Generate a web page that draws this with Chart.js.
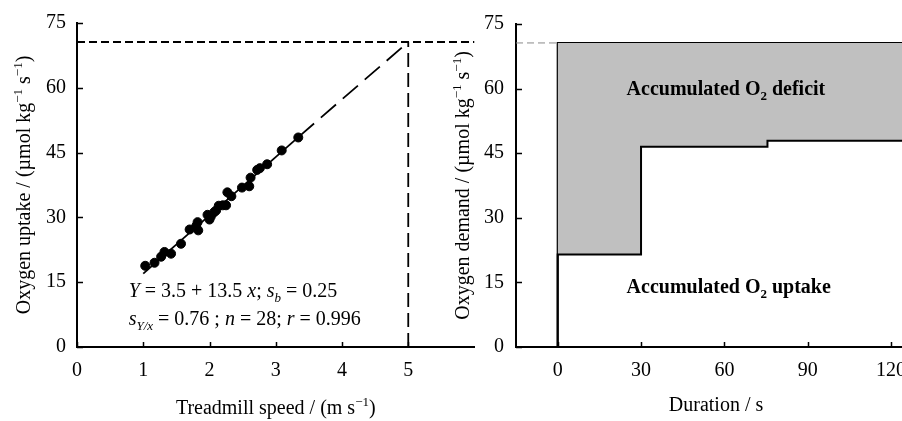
<!DOCTYPE html>
<html>
<head>
<meta charset="utf-8">
<script src="https://cdn.jsdelivr.net/npm/chart.js@4"></script>
<style>
  html, body { margin: 0; padding: 0; background: #fff; overflow: hidden; width: 902px; height: 421px; }
  #boxRight { position: absolute; left: 440px; top: 0; width: 480px; height: 421px; }
  #boxLeft { position: absolute; left: 0; top: 0; width: 480px; height: 421px; }
</style>
</head>
<body>
<div id="boxRight"><canvas id="demand"></canvas></div>
<div id="boxLeft"><canvas id="uptake"></canvas></div>
<script>
// left panel: O2 uptake vs treadmill speed
const speed = [1.03, 1.17, 1.27, 1.32, 1.42, 1.57, 1.70, 1.82, 1.83, 1.80, 1.97, 2.00, 2.02, 2.07,
               2.10, 2.14, 2.20, 2.25, 2.27, 2.33, 2.49, 2.60, 2.62, 2.72, 2.76, 2.87, 3.09, 3.34];
const uptake = [18.8, 19.5, 20.9, 22.0, 21.6, 23.9, 27.2, 28.9, 27.0, 28.0, 30.6, 29.5, 30.2, 31.2,
                31.6, 32.7, 32.8, 32.8, 35.8, 34.9, 36.9, 37.2, 39.2, 41.0, 41.4, 42.3, 45.5, 48.5];
const fitSolidX = [1.0, 3.35];
const fitSolidY = [17.0, 48.7];
const fitDashX = [3.35, 5.0];
const fitDashY = [48.7, 70.6];
const demandSpeed = 5;
const demandValue = 70.6;
const speedTicks = [0, 1, 2, 3, 4, 5];
const uptakeTicks = [0, 15, 30, 45, 60, 75];

// right panel: demand and uptake over time
const stepTime = [0, 0, 30, 30, 75.5, 75.5, 131];
const stepUptake = [0, 21.5, 21.5, 46.5, 46.5, 47.9, 47.9];
const demandTime = [0, 0, 131];
const demandLine = [0, 70.6, 70.6];
const durationTicks = [0, 30, 60, 90, 120];

const FONT = '"Liberation Serif", "Times New Roman", serif';
const pts = (xs, ys) => xs.map((x, i) => ({ x: x, y: ys[i] }));

// text with italics / sub- and superscripts
function drawRich(ctx, parts, x, y, size, align, rotate) {
  const segs = parts.map(([t, k]) => {
    const small = k.includes('^') || k.includes('_');
    const sz = small ? Math.round(size * 0.65) : size;
    ctx.font = (k.includes('i') ? 'italic ' : '') + (k.includes('b') ? 'bold ' : '') + sz + 'px ' + FONT;
    return { t: t, font: ctx.font, w: ctx.measureText(t).width,
             dy: k.includes('^') ? -size * 0.42 : (k.includes('_') ? size * 0.25 : 0) };
  });
  const total = segs.reduce((a, s) => a + s.w, 0);
  ctx.save();
  ctx.translate(x, y);
  if (rotate) ctx.rotate(rotate);
  ctx.fillStyle = '#000';
  ctx.textAlign = 'left';
  ctx.textBaseline = 'alphabetic';
  let cx = align === 'center' ? -total / 2 : 0;
  segs.forEach(s => { ctx.font = s.font; ctx.fillText(s.t, cx, s.dy); cx += s.w; });
  ctx.restore();
}

// titles and in-plot notes, kept outside chart options
function richLabels(items) {
  return {
    id: 'richLabels',
    afterDraw(chart) {
      const ctx = chart.ctx, a = chart.chartArea, sx = chart.scales.x, sy = chart.scales.y;
      items.forEach(it => {
        let x, y;
        if (it.kind === 'ytitle') { x = a.left - it.gap; y = (a.top + a.bottom) / 2; }
        else if (it.kind === 'xtitle') { x = (a.left + a.right) / 2 + (it.nudge || 0); y = it.base; }
        else { x = sx.getPixelForValue(it.at[0]); y = sy.getPixelForValue(it.at[1]); }
        drawRich(ctx, it.parts, x, y, 20, it.kind ? 'center' : 'left', it.kind === 'ytitle' ? -Math.PI / 2 : 0);
      });
    }
  };
}

// tick marks pointing into the plot
const inwardTicks = {
  id: 'inwardTicks',
  afterDraw(chart) {
    const ctx = chart.ctx, sx = chart.scales.x, sy = chart.scales.y, a = chart.chartArea;
    ctx.save();
    ctx.strokeStyle = '#000';
    ctx.lineWidth = 1.5;
    ctx.beginPath();
    sx.ticks.forEach(t => {
      const p = Math.round(sx.getPixelForValue(t.value)) + 0.5;
      ctx.moveTo(p, a.bottom); ctx.lineTo(p, a.bottom - 5);
    });
    sy.ticks.forEach(t => {
      const p = Math.round(sy.getPixelForValue(t.value)) + 0.5;
      ctx.moveTo(a.left, p); ctx.lineTo(a.left + 6, p);
    });
    ctx.stroke();
    ctx.restore();
  }
};

function axes(xMin, xMax, xTicks, yWidth, yPad) {
  return {
    x: {
      type: 'linear', min: xMin, max: xMax,
      afterBuildTicks: s => { s.ticks = xTicks.map(v => ({ value: v })); },
      afterFit: s => { s.height = 74; },
      grid: { display: false, drawTicks: false },
      border: { color: '#000', width: 2 },
      ticks: { color: '#000', padding: 12, font: { family: FONT, size: 20 }, callback: v => String(v) }
    },
    y: {
      type: 'linear', min: 0, max: 75,
      afterBuildTicks: s => { s.ticks = uptakeTicks.map(v => ({ value: v })); },
      afterFit: s => { s.width = yWidth; },
      grid: { display: false, drawTicks: false },
      border: { color: '#000', width: 2 },
      ticks: { color: '#000', padding: yPad, font: { family: FONT, size: 20 }, callback: v => String(v) }
    }
  };
}

const base = {
  responsive: true,
  maintainAspectRatio: false,
  animation: false,
  events: [],
  plugins: { legend: { display: false }, tooltip: { enabled: false } }
};

const leftText = [
  { kind: 'ytitle', gap: 47, parts: [['Oxygen uptake / (\u00b5mol kg', ''], ['\u22121', '^'], [' s', ''], ['\u22121', '^'], [')', '']] },
  { kind: 'xtitle', base: 414, parts: [['Treadmill speed / (m s', ''], ['\u22121', '^'], [')', '']] },
  { at: [0.78, 11.5], parts: [['Y', 'i'], [' = 3.5 + 13.5 ', ''], ['x', 'i'], ['; ', ''], ['s', 'i'], ['b', 'i_'], [' = 0.25', '']] },
  { at: [0.78, 5.2], parts: [['s', 'i'], ['Y/x', 'i_'], [' = 0.76 ; ', ''], ['n', 'i'], [' = 28; ', ''], ['r', 'i'], [' = 0.996', '']] }
];

const rightText = [
  { kind: 'ytitle', gap: 47, parts: [['Oxygen demand / (\u00b5mol kg', ''], ['\u22121', '^'], [' s', ''], ['\u22121', '^'], [')', '']] },
  { kind: 'xtitle', base: 411, nudge: -2, parts: [['Duration / s', '']] },
  { at: [24.8, 58.4], parts: [['Accumulated O', 'b'], ['2', 'b_'], [' deficit', 'b']] },
  { at: [24.8, 12.6], parts: [['Accumulated O', 'b'], ['2', 'b_'], [' uptake', 'b']] }
];

new Chart(document.getElementById('uptake'), {
  type: 'scatter',
  data: {
    datasets: [
      { data: pts(speed, uptake), backgroundColor: '#000', borderColor: '#000', pointRadius: 4.5, order: 0 },
      { type: 'line', data: pts(fitSolidX, fitSolidY), borderColor: '#000', borderWidth: 1.8, pointRadius: 0, order: 1 },
      { type: 'line', data: pts(fitDashX, fitDashY), borderColor: '#000', borderWidth: 1.8, borderDash: [20, 9], pointRadius: 0, order: 1 },
      { type: 'line', data: pts([0, 6], [demandValue, demandValue]), borderColor: '#000', borderWidth: 1.8, borderDash: [8, 4], pointRadius: 0, order: 1 },
      { type: 'line', data: pts([demandSpeed, demandSpeed], [0, demandValue]), borderColor: '#000', borderWidth: 1.8, borderDash: [14, 6], pointRadius: 0, order: 1 }
    ]
  },
  options: Object.assign({}, base, {
    layout: { padding: { top: 19, right: 2, left: 0, bottom: 0 } },
    scales: axes(0, 6, speedTicks, 77, 11)
  }),
  plugins: [inwardTicks, richLabels(leftText)]
});

new Chart(document.getElementById('demand'), {
  type: 'scatter',
  data: {
    datasets: [
      { type: 'line', data: pts(stepTime, stepUptake), borderColor: '#000', borderWidth: 2,
        backgroundColor: '#c0c0c0', fill: { target: { value: demandValue } }, pointRadius: 0 },
      { type: 'line', data: pts(demandTime, demandLine), borderColor: '#000', borderWidth: 2, pointRadius: 0 },
      { type: 'line', data: pts([-15, 0], [demandValue, demandValue]), borderColor: '#8a8a8a', borderWidth: 1, borderDash: [7, 4], pointRadius: 0 }
    ]
  },
  options: Object.assign({}, base, {
    layout: { padding: { top: 19, right: 0, left: 0, bottom: 0 } },
    scales: axes(-15, 130.4, durationTicks, 76, 12)
  }),
  plugins: [inwardTicks, richLabels(rightText)]
});
</script>
</body>
</html>
